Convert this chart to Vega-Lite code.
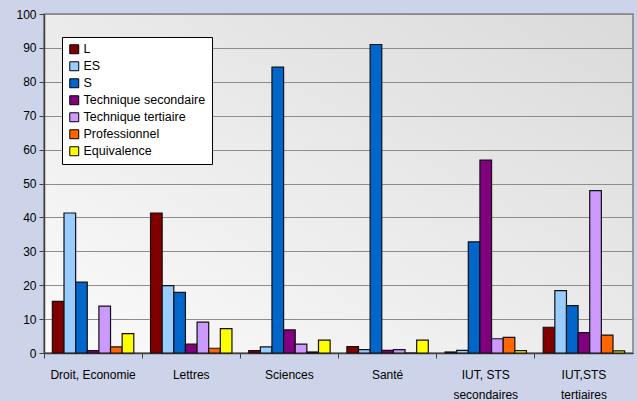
{
  "$schema": "https://vega.github.io/schema/vega-lite/v6.json",
  "width": 589,
  "height": 339,
  "autosize": {"type": "none"},
  "padding": {"left": 44, "top": 14, "right": 4, "bottom": 48},
  "background": "#CDD3E8",
  "config": {
    "font": "Liberation Sans",
    "view": {
      "fill": {"gradient": "linear", "x1": 0, "y1": 1, "x2": 1, "y2": 0, "stops": [{"offset": 0, "color": "#FBFBFB"}, {"offset": 1, "color": "#DADADA"}]},
      "stroke": "#808080",
      "strokeWidth": 1.5
    }
  },
  "data": {
    "values": [
      {"filiere": "Droit, Economie", "bac": "L", "pct": 15.2},
      {"filiere": "Droit, Economie", "bac": "ES", "pct": 41.3},
      {"filiere": "Droit, Economie", "bac": "S", "pct": 20.9},
      {"filiere": "Droit, Economie", "bac": "Technique secondaire", "pct": 0.7},
      {"filiere": "Droit, Economie", "bac": "Technique tertiaire", "pct": 13.8},
      {"filiere": "Droit, Economie", "bac": "Professionnel", "pct": 1.8},
      {"filiere": "Droit, Economie", "bac": "Equivalence", "pct": 5.7},
      {"filiere": "Lettres", "bac": "L", "pct": 41.3},
      {"filiere": "Lettres", "bac": "ES", "pct": 19.9},
      {"filiere": "Lettres", "bac": "S", "pct": 17.9},
      {"filiere": "Lettres", "bac": "Technique secondaire", "pct": 2.6},
      {"filiere": "Lettres", "bac": "Technique tertiaire", "pct": 9.1},
      {"filiere": "Lettres", "bac": "Professionnel", "pct": 1.4},
      {"filiere": "Lettres", "bac": "Equivalence", "pct": 7.2},
      {"filiere": "Sciences", "bac": "L", "pct": 0.7},
      {"filiere": "Sciences", "bac": "ES", "pct": 1.8},
      {"filiere": "Sciences", "bac": "S", "pct": 84.3},
      {"filiere": "Sciences", "bac": "Technique secondaire", "pct": 6.8},
      {"filiere": "Sciences", "bac": "Technique tertiaire", "pct": 2.6},
      {"filiere": "Sciences", "bac": "Professionnel", "pct": 0.3},
      {"filiere": "Sciences", "bac": "Equivalence", "pct": 3.8},
      {"filiere": "Santé", "bac": "L", "pct": 1.9},
      {"filiere": "Santé", "bac": "ES", "pct": 1.0},
      {"filiere": "Santé", "bac": "S", "pct": 91.0},
      {"filiere": "Santé", "bac": "Technique secondaire", "pct": 0.8},
      {"filiere": "Santé", "bac": "Technique tertiaire", "pct": 1.0},
      {"filiere": "Santé", "bac": "Professionnel", "pct": 0},
      {"filiere": "Santé", "bac": "Equivalence", "pct": 3.8},
      {"filiere": "IUT, STS secondaires", "bac": "L", "pct": 0.3},
      {"filiere": "IUT, STS secondaires", "bac": "ES", "pct": 0.8},
      {"filiere": "IUT, STS secondaires", "bac": "S", "pct": 32.8},
      {"filiere": "IUT, STS secondaires", "bac": "Technique secondaire", "pct": 56.9},
      {"filiere": "IUT, STS secondaires", "bac": "Technique tertiaire", "pct": 4.2},
      {"filiere": "IUT, STS secondaires", "bac": "Professionnel", "pct": 4.6},
      {"filiere": "IUT, STS secondaires", "bac": "Equivalence", "pct": 0.7},
      {"filiere": "IUT,STS tertiaires", "bac": "L", "pct": 7.6},
      {"filiere": "IUT,STS tertiaires", "bac": "ES", "pct": 18.4},
      {"filiere": "IUT,STS tertiaires", "bac": "S", "pct": 14.0},
      {"filiere": "IUT,STS tertiaires", "bac": "Technique secondaire", "pct": 6.0},
      {"filiere": "IUT,STS tertiaires", "bac": "Technique tertiaire", "pct": 47.9},
      {"filiere": "IUT,STS tertiaires", "bac": "Professionnel", "pct": 5.3},
      {"filiere": "IUT,STS tertiaires", "bac": "Equivalence", "pct": 0.6}
    ]
  },
  "mark": {"type": "bar", "stroke": "#111111", "strokeWidth": 1.2},
  "encoding": {
    "x": {
      "field": "filiere",
      "type": "nominal",
      "sort": null,
      "scale": {"paddingInner": 0, "paddingOuter": 0},
      "axis": {
        "title": null,
        "labelAngle": 0,
        "labelFontSize": 12,
        "labelColor": "#000000",
        "labelPadding": 11,
        "labelLineHeight": 20,
        "bandPosition": 0,
        "tickSize": 5,
        "tickColor": "#404040",
        "domainColor": "#404040",
        "domainWidth": 1.5,
        "labelExpr": "datum.label == 'IUT, STS secondaires' ? ['IUT, STS', 'secondaires'] : datum.label == 'IUT,STS tertiaires' ? ['IUT,STS', 'tertiaires'] : datum.label"
      }
    },
    "xOffset": {
      "field": "bac",
      "sort": ["L", "ES", "S", "Technique secondaire", "Technique tertiaire", "Professionnel", "Equivalence"],
      "scale": {"paddingInner": 0, "paddingOuter": 0.72}
    },
    "y": {
      "field": "pct",
      "type": "quantitative",
      "scale": {"domain": [0, 100], "nice": false},
      "axis": {
        "title": null,
        "values": [0, 10, 20, 30, 40, 50, 60, 70, 80, 90, 100],
        "labelFontSize": 12,
        "labelColor": "#000000",
        "labelPadding": 3,
        "tickSize": 5,
        "tickColor": "#404040",
        "domainColor": "#404040",
        "domainWidth": 1.5,
        "gridColor": "#8C8C8C",
        "gridWidth": 1.2
      }
    },
    "color": {
      "field": "bac",
      "type": "nominal",
      "scale": {
        "domain": ["L", "ES", "S", "Technique secondaire", "Technique tertiaire", "Professionnel", "Equivalence"],
        "range": ["#800000", "#99CCFF", "#0066CC", "#800080", "#CC99FF", "#FF6600", "#FFFF00"]
      },
      "legend": {
        "title": null,
        "orient": "none",
        "legendX": 18,
        "legendY": 23,
        "fillColor": "#FFFFFF",
        "strokeColor": "#000000",
        "padding": 6,
        "symbolType": "square",
        "symbolSize": 80,
        "symbolStrokeColor": "#000000",
        "symbolStrokeWidth": 1,
        "symbolOpacity": 1,
        "labelFontSize": 12.5,
        "labelColor": "#000000",
        "labelOffset": 3,
        "rowPadding": 3
      }
    }
  }
}
